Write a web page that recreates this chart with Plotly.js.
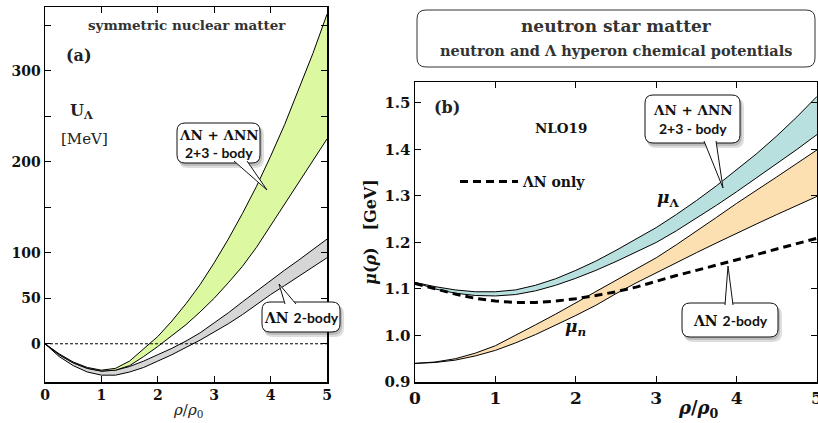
<!DOCTYPE html>
<html><head><meta charset="utf-8">
<script src="https://cdn.plot.ly/plotly-3.0.1.min.js"></script>
<style>body{margin:0;background:#fff}#c{width:818px;height:423px}</style>
</head><body><div id="c"></div>
<script>
// ---------- data ----------
const rho = [0,0.25,0.5,0.75,1,1.25,1.5,1.75,2,2.25,2.5,2.75,3,3.25,3.5,3.75,4,4.25,4.5,4.75,5];
// panel (a): U_Lambda in symmetric nuclear matter [MeV]
const uLN_NNN_upper = [0,-11,-20,-26,-29,-27,-19,-6,8,25,44,65,89,115,143,173,206,241,279,319,362];
const uLN_NNN_lower = [0,-12,-21,-27,-30,-29,-24,-14,-3,9,21,35,50,67,85,106,130,154,178,201,225];
const uLN_upper     = [0,-12,-21,-27,-30,-29,-25,-19,-12,-5,3,12,23,34,46,58,70,81,92,104,115];
const uLN_lower     = [0,-14,-24,-31,-34.5,-34.5,-31,-26,-19,-12,-4,4,13,22,32,43,54,64,74,84,94.5];
// panel (b): chemical potentials in neutron star matter [GeV]
const muL_upper = [1.114,1.105,1.098,1.094,1.094,1.098,1.108,1.122,1.140,1.160,1.183,1.207,1.232,1.260,1.290,1.322,1.356,1.391,1.429,1.470,1.514];
const muL_lower = [1.114,1.100,1.091,1.086,1.085,1.088,1.096,1.108,1.123,1.140,1.159,1.179,1.200,1.225,1.252,1.280,1.309,1.339,1.369,1.400,1.432];
const muN_upper = [0.940,0.943,0.950,0.962,0.978,1.000,1.023,1.046,1.070,1.094,1.118,1.142,1.167,1.195,1.224,1.254,1.284,1.312,1.341,1.370,1.399];
const muN_lower = [0.940,0.942,0.947,0.956,0.968,0.984,1.002,1.022,1.043,1.065,1.090,1.113,1.135,1.157,1.178,1.199,1.220,1.240,1.260,1.280,1.299];
const muL_LNonly = [1.112,1.100,1.089,1.080,1.074,1.071,1.071,1.074,1.079,1.086,1.094,1.104,1.117,1.129,1.140,1.151,1.162,1.174,1.186,1.198,1.209];
// ticks
const xTicks = [0,1,2,3,4,5];
const yTicksA = [0,50,100,150,200,250,300,350];
const yTickTextA = ['0','50','100','','200','','300',''];
const yMinorA = [-40,-30,-20,-10,10,20,30,40];
const yTicksB = [0.9,1.0,1.1,1.2,1.3,1.4,1.5];
const yTickTextB = ['0.9','1.0','1.1','1.2','1.3','1.4','1.5'];

// ---------- helpers ----------
const W = 818, H = 423;
const SERIF = 'DejaVu Serif', SANS = 'Lato';
const px = x => x / W, py = y => 1 - y / H;
function rrect(x0, y0, x1, y1, r) {
  const p = (x, y) => px(x) + ',' + py(y);
  return 'M' + p(x0 + r, y0) + ' L' + p(x1 - r, y0) + ' Q' + p(x1, y0) + ' ' + p(x1, y0 + r) +
    ' L' + p(x1, y1 - r) + ' Q' + p(x1, y1) + ' ' + p(x1 - r, y1) +
    ' L' + p(x0 + r, y1) + ' Q' + p(x0, y1) + ' ' + p(x0, y1 - r) +
    ' L' + p(x0, y0 + r) + ' Q' + p(x0, y0) + ' ' + p(x0 + r, y0) + ' Z';
}
function wedge(ax, ay, bx, by, tx, ty) {
  return 'M' + px(ax) + ',' + py(ay) + ' L' + px(tx) + ',' + py(ty) + ' L' + px(bx) + ',' + py(by);
}
const shapes = [];
function callout(box, w) {
  const [x0, y0, x1, y1] = box;
  shapes.push({type:'path', xref:'paper', yref:'paper', path: rrect(x0+2, y0+3, x1+4, y1+5, 9), fillcolor:'rgba(0,0,0,0.13)', line:{width:0}, layer:'above'});
  shapes.push({type:'path', xref:'paper', yref:'paper', path: rrect(x0+1, y0+2, x1+2, y1+3, 9), fillcolor:'rgba(0,0,0,0.15)', line:{width:0}, layer:'above'});
  shapes.push({type:'path', xref:'paper', yref:'paper', path: rrect(x0, y0, x1, y1, 8), fillcolor:'#ffffff', line:{color:'#111', width:1}, layer:'above'});
  shapes.push({type:'path', xref:'paper', yref:'paper', path: wedge(...w), fillcolor:'#ffffff', line:{color:'#111', width:1}, layer:'above'});
}

const ln = {color:'#000', width:1};
const traces = [
  {x:rho, y:uLN_lower, xaxis:'x', yaxis:'y', mode:'lines', line:ln, showlegend:false, hoverinfo:'skip'},
  {x:rho, y:uLN_upper, xaxis:'x', yaxis:'y', mode:'lines', line:ln, fill:'tonexty', fillcolor:'#d6d6d6', showlegend:false},
  {x:rho, y:uLN_NNN_lower, xaxis:'x', yaxis:'y', mode:'lines', line:ln, showlegend:false},
  {x:rho, y:uLN_NNN_upper, xaxis:'x', yaxis:'y', mode:'lines', line:ln, fill:'tonexty', fillcolor:'#dcf9a2', showlegend:false},
  {x:rho, y:muN_lower, xaxis:'x2', yaxis:'y2', mode:'lines', line:ln, showlegend:false},
  {x:rho, y:muN_upper, xaxis:'x2', yaxis:'y2', mode:'lines', line:ln, fill:'tonexty', fillcolor:'#fde0b2', showlegend:false},
  {x:rho, y:muL_lower, xaxis:'x2', yaxis:'y2', mode:'lines', line:ln, showlegend:false},
  {x:rho, y:muL_upper, xaxis:'x2', yaxis:'y2', mode:'lines', line:ln, fill:'tonexty', fillcolor:'#b8e0df', showlegend:false},
  {x:rho, y:muL_LNonly, xaxis:'x2', yaxis:'y2', mode:'lines', line:{color:'#000', width:3, dash:'8px,5px'}, name:'ΛN only', showlegend:true},
];

// zero line in panel (a)
shapes.push({type:'line', xref:'x', yref:'y', x0:0, x1:5, y0:0, y1:0, line:{color:'#000', width:1, dash:'3px,2px'}, layer:'above'});
// title box panel (b)
shapes.push({type:'path', xref:'paper', yref:'paper', path: rrect(417, 10, 815, 67, 9), fillcolor:'rgba(0,0,0,0)', line:{color:'#333', width:1}});
// callouts
callout([177,123,260,163], [234,161, 247,161, 267,190]);
callout([262,302,340,332], [285,304, 296,304, 279,284]);
callout([645,95,740,143], [704,141, 716,141, 723,188]);
callout([682,303,778,337], [725,305, 733,305, 728,266]);

const tf = (s, w) => ({family:SERIF, size:s, color:'#111', weight: w || 'bold'});
function ann(text, x, y, font, extra) {
  return Object.assign({text, x:px(x), y:py(y), xref:'paper', yref:'paper', showarrow:false, xanchor:'center', yanchor:'middle', font}, extra || {});
}
const annotations = [
  ann('symmetric nuclear matter', 187, 25, {family:SERIF, size:13.5, color:'#333', weight:'bold'}),
  ann('(a)', 79, 56, {family:SERIF, size:16, color:'#222', weight:'bold'}),
  ann('U<sub>Λ</sub>', 81, 111, {family:SERIF, size:16, color:'#222', weight:'bold'}),
  ann('[MeV]', 84, 139, {family:SERIF, size:15, color:'#222', weight:'normal'}),
  ann('<i>ρ</i>/<i>ρ</i><sub>0</sub>', 188, 410, {family:SERIF, size:15, color:'#222', weight:'normal'}),
  ann('ΛN + ΛNN', 218.5, 135, {family:SERIF, size:13.5, color:'#111', weight:'bold'}),
  ann('2+3 - body', 218.5, 152, {family:SANS, size:14, color:'#111', weight:'bold'}),
  ann('ΛN <span style="font-family:Lato">2-body</span>', 301, 317, {family:SERIF, size:14, color:'#111', weight:'bold'}),
  ann('neutron star matter', 616, 26, {family:SERIF, size:17, color:'#333', weight:'bold'}),
  ann('neutron and Λ hyperon chemical potentials', 616, 51, {family:SERIF, size:14.5, color:'#333', weight:'bold'}),
  ann('(b)', 447, 108, {family:SERIF, size:16, color:'#222', weight:'bold'}),
  ann('NLO19', 561, 128, {family:SERIF, size:13.5, color:'#111', weight:'bold'}),
  ann('<i>μ</i><sub>Λ</sub>', 668, 198, {family:SERIF, size:17, color:'#111', weight:'bold'}),
  ann('<i>μ<sub>n</sub></i>', 575, 327, {family:SERIF, size:17, color:'#111', weight:'bold'}),
  ann('<i>ρ</i>/<i>ρ</i><sub>0</sub>', 698, 409, {family:SERIF, size:18, color:'#111', weight:'bold'}),
  ann('ΛN + ΛNN', 692.5, 110, {family:SERIF, size:13.5, color:'#111', weight:'bold'}),
  ann('2+3 - body', 692.5, 128, {family:SANS, size:14, color:'#111', weight:'bold'}),
  ann('ΛN <span style="font-family:Lato">2-body</span>', 730, 320, {family:SERIF, size:14, color:'#111', weight:'bold'}),
];

const axBase = {showgrid:false, zeroline:false, showline:true, linecolor:'#000', linewidth:1.5, mirror:'ticks', ticks:'inside', tickcolor:'#000', tickwidth:1, ticklen:6};
const layout = {
  width:W, height:H, margin:{l:0, r:0, t:0, b:0}, paper_bgcolor:'#fff', plot_bgcolor:'#fff',
  xaxis: Object.assign({}, axBase, {domain:[px(45), px(327)], range:[0,5], anchor:'y', tickmode:'array', tickvals:xTicks, tickfont:tf(14)}),
  yaxis: Object.assign({}, axBase, {domain:[py(382), py(7)], range:[-42,370], anchor:'x', tickmode:'array', tickvals:yTicksA, ticktext:yTickTextA, tickfont:tf(14)}),
  yaxis3: {overlaying:'y', anchor:'x', side:'left', range:[-42,370], tickmode:'array', tickvals:yMinorA, ticks:'inside', ticklen:3, tickcolor:'#000', showticklabels:false, showline:false, showgrid:false, zeroline:false},
  xaxis2: Object.assign({}, axBase, {domain:[px(415), px(817)], range:[0,5], anchor:'y2', tickmode:'array', tickvals:xTicks, tickfont:tf(17), ticklabeloverflow:'allow'}),
  yaxis2: Object.assign({}, axBase, {domain:[py(382), py(82)], range:[0.9,1.545], anchor:'x2', tickmode:'array', tickvals:yTicksB, ticktext:yTickTextB, tickfont:tf(15),
    title:{text:'<i>μ</i>(<i>ρ</i>)   [GeV]', font:{family:SERIF, size:16, color:'#111', weight:'bold'}, standoff:4}}),
  showlegend:true,
  legend:{x:px(455), y:py(182), xanchor:'left', yanchor:'middle', bgcolor:'rgba(0,0,0,0)', borderwidth:0, itemwidth:58, font:{family:SERIF, size:14, color:'#111', weight:'bold'}},
  shapes, annotations
};
Plotly.newPlot('c', traces, layout, {displayModeBar:false, staticPlot:true});
</script></body></html>
